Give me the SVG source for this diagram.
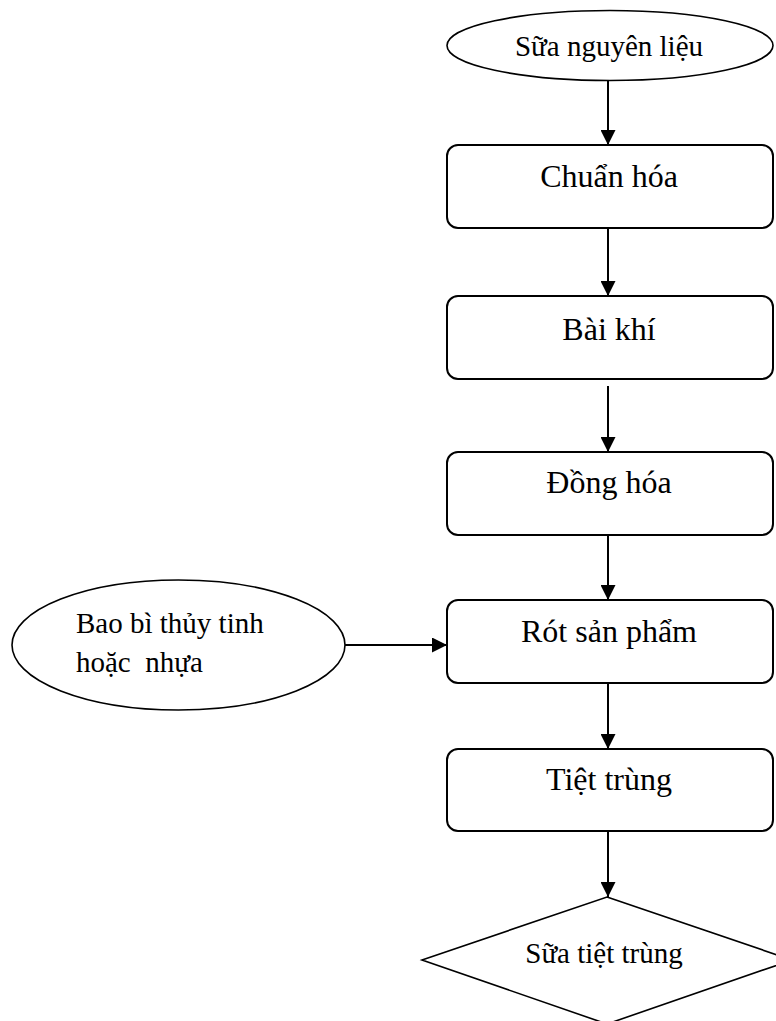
<svg xmlns="http://www.w3.org/2000/svg" width="776" height="1021" viewBox="0 0 776 1021">
<style>
.b{fill:#fff;stroke:#000;stroke-width:2}
.e{fill:#fff;stroke:#000;stroke-width:1.6}
.t{font-family:"Liberation Serif","Times New Roman",serif;fill:#000}
.c{stroke:#000;stroke-width:2;fill:none}
</style>
<defs>
<marker id="ah" markerUnits="userSpaceOnUse" markerWidth="16" markerHeight="15" refX="15" refY="7.5" orient="auto">
<path d="M0,0 L15,7.5 L0,15 z" fill="#000"/>
</marker>
</defs>
<rect width="776" height="1021" fill="#fff"/>
<g id="connectors">
<line class="c" x1="608" y1="80" x2="608" y2="145" marker-end="url(#ah)"/>
<line class="c" x1="608" y1="228" x2="608" y2="296" marker-end="url(#ah)"/>
<line class="c" x1="608" y1="386" x2="608" y2="452" marker-end="url(#ah)"/>
<line class="c" x1="608" y1="535" x2="608" y2="600" marker-end="url(#ah)"/>
<line class="c" x1="608" y1="683" x2="608" y2="749" marker-end="url(#ah)"/>
<line class="c" x1="608" y1="831" x2="608" y2="897" marker-end="url(#ah)"/>
<line class="c" x1="345" y1="645" x2="447" y2="645" marker-end="url(#ah)"/>
</g>
<g id="sua-nguyen-lieu">
<ellipse class="e" cx="610" cy="45.5" rx="163" ry="35"/>
<text class="t" x="609" y="56" font-size="29" text-anchor="middle">Sữa nguyên liệu</text>
</g>
<g id="chuan-hoa">
<rect class="b" x="447" y="145" width="326" height="83" rx="11"/>
<text class="t" x="609" y="187" font-size="32" text-anchor="middle">Chuẩn hóa</text>
</g>
<g id="bai-khi">
<rect class="b" x="447" y="296" width="326" height="83" rx="11"/>
<text class="t" x="609" y="340" font-size="32" text-anchor="middle">Bài khí</text>
</g>
<g id="dong-hoa">
<rect class="b" x="447" y="452" width="326" height="83" rx="11"/>
<text class="t" x="609" y="493" font-size="32" text-anchor="middle">Đồng hóa</text>
</g>
<g id="rot-san-pham">
<rect class="b" x="447" y="600" width="326" height="83" rx="11"/>
<text class="t" x="609" y="642" font-size="32" text-anchor="middle">Rót sản phẩm</text>
</g>
<g id="tiet-trung">
<rect class="b" x="447" y="749" width="326" height="82" rx="11"/>
<text class="t" x="609" y="790" font-size="32" text-anchor="middle">Tiệt trùng</text>
</g>
<g id="bao-bi">
<ellipse class="e" cx="178.5" cy="645" rx="166.5" ry="65"/>
<text class="t" x="76" y="633" font-size="29">Bao bì thủy tinh</text>
<text class="t" x="76" y="672" font-size="29" xml:space="preserve">hoặc  nhựa</text>
</g>
<g id="sua-tiet-trung">
<polygon class="e" points="607,897 792,960 607,1024 422,960"/>
<text class="t" x="604" y="963" font-size="29" text-anchor="middle">Sữa tiệt trùng</text>
</g>
</svg>
